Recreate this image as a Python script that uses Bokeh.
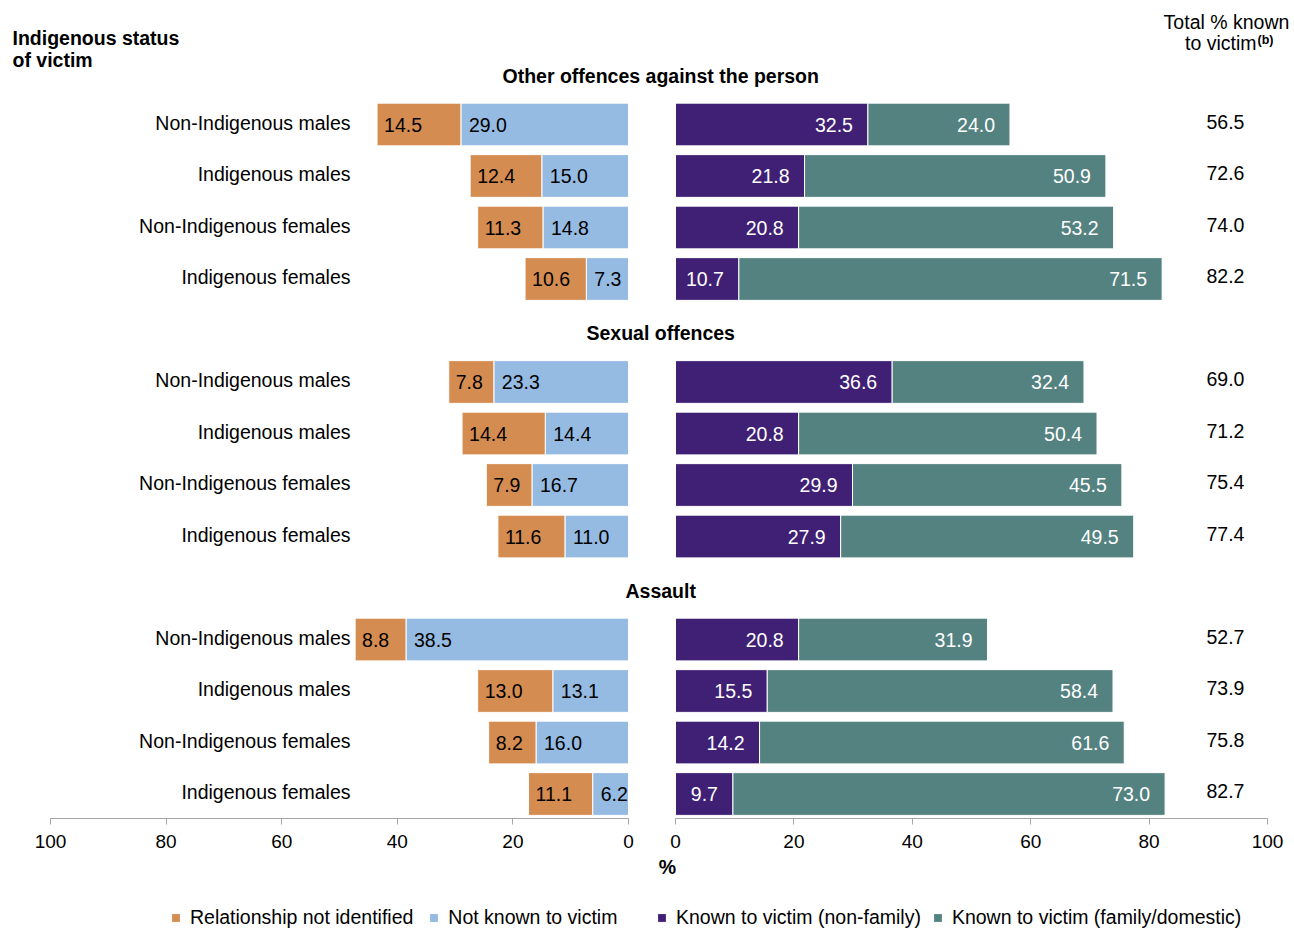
import numpy as np
from bokeh.plotting import figure
from bokeh.models import (ColumnDataSource, Range1d, LinearAxis, FixedTicker,
                          Label, Legend, LegendItem)
from bokeh.core.properties import value
from bokeh.embed import file_html
from bokeh.resources import INLINE

# ---------------- data ----------------
offence_groups = ["Other offences against the person", "Sexual offences", "Assault"]
victim_groups = ["Non-Indigenous males", "Indigenous males",
                 "Non-Indigenous females", "Indigenous females"]
not_identified = [14.5, 12.4, 11.3, 10.6, 7.8, 14.4, 7.9, 11.6, 8.8, 13.0, 8.2, 11.1]
not_known = [29.0, 15.0, 14.8, 7.3, 23.3, 14.4, 16.7, 11.0, 38.5, 13.1, 16.0, 6.2]
known_nonfamily = [32.5, 21.8, 20.8, 10.7, 36.6, 20.8, 29.9, 27.9, 20.8, 15.5, 14.2, 9.7]
known_family = [24.0, 50.9, 53.2, 71.5, 32.4, 50.4, 45.5, 49.5, 31.9, 58.4, 61.6, 73.0]
total_known = [56.5, 72.6, 74.0, 82.2, 69.0, 71.2, 75.4, 77.4, 52.7, 73.9, 75.8, 82.7]
tick_values = [0, 20, 40, 60, 80, 100]
series_names = ["Relationship not identified", "Not known to victim",
                "Known to victim (non-family)", "Known to victim (family/domestic)"]

# ---------------- style ----------------
FONT = "Liberation Sans"
FS = "19.5px"
C_ORANGE = "#D58C51"
C_BLUE = "#95BBE2"
C_PURPLE = "#3F2075"
C_TEAL = "#548280"
C_AXIS = "#A6A6A6"

n_rows = len(victim_groups)
step = n_rows + 1
ypos = [g * step + i for g in range(len(offence_groups)) for i in range(n_rows)]
row_labels = victim_groups * len(offence_groups)

rni = np.array(not_identified)
nk = np.array(not_known)
kn = np.array(known_nonfamily)
kf = np.array(known_family)

src = ColumnDataSource(dict(
    y=ypos, label=row_labels,
    nk=nk, nk_end=nk + rni, kn=kn, kf_end=kn + kf,
    rni_txt=[f"{v:.1f}" for v in rni], nk_txt=[f"{v:.1f}" for v in nk],
    kn_txt=[f"{v:.1f}" for v in kn], kf_txt=[f"{v:.1f}" for v in kf],
    tot_txt=[f"{v:.1f}" for v in total_known],
))

# frame covers the whole canvas; layout constants in data units
Y_BOTTOM = 15.631
Y_TOP = -2.4078
Y_AXIS = 13.476

p = figure(width=1294, height=929,
           x_range=Range1d(-114.02, 104.56), y_range=Range1d(Y_BOTTOM, Y_TOP),
           output_backend="svg", toolbar_location=None,
           x_axis_location=None, y_axis_location=None,
           min_border=0, min_border_left=0, min_border_right=0,
           min_border_top=0, min_border_bottom=0,
           outline_line_color=None, background_fill_color="white",
           border_fill_color="white")
p.extra_x_ranges = {"left": Range1d(108.65, -115.22)}
p.xgrid.visible = False
p.ygrid.visible = False
p.grid.visible = False

BH = 0.83
r_blue = p.hbar(y="y", left="nk", right=0, height=BH, source=src, x_range_name="left",
                fill_color=C_BLUE, line_color="white", line_width=1)
r_orange = p.hbar(y="y", left="nk_end", right="nk", height=BH, source=src, x_range_name="left",
                  fill_color=C_ORANGE, line_color="white", line_width=1)
r_purple = p.hbar(y="y", left=0, right="kn", height=BH, source=src,
                  fill_color=C_PURPLE, line_color="white", line_width=1)
r_teal = p.hbar(y="y", left="kn", right="kf_end", height=BH, source=src,
                fill_color=C_TEAL, line_color="white", line_width=1)

txt = dict(text_font=value(FONT), text_font_size=value(FS), text_baseline="middle")

# values on bars
p.text(x="nk_end", y="y", text="rni_txt", source=src, x_range_name="left",
       x_offset=7, text_align="left", text_color="black", **txt)
p.text(x="nk", y="y", text="nk_txt", source=src, x_range_name="left",
       x_offset=8, text_align="left", text_color="black", **txt)
p.text(x="kn", y="y", text="kn_txt", source=src,
       x_offset=-15, text_align="right", text_color="white", **txt)
p.text(x="kf_end", y="y", text="kf_txt", source=src,
       x_offset=-15, text_align="right", text_color="white", **txt)

# row labels
p.text(x=48.1, y="y", text="label", source=src, x_range_name="left",
       y_offset=-2, text_align="right", text_color="black", **txt)
# totals
p.text(x=92.9, y="y", text="tot_txt", source=src, y_offset=-3,
       text_align="center", text_color="black", **txt)

# group headers
hdr_src = ColumnDataSource(dict(
    y=[g * step - 0.95 for g in range(len(offence_groups))], text=offence_groups))
p.text(x=-2.5, y="y", text="text", source=hdr_src, text_align="center",
       text_color="black", text_font_style="bold", **txt)

# axes (two separate axis lines, drawn at the same level)
for rname in ["left", "default"]:
    ax = LinearAxis(x_range_name=rname, bounds=(0, 100),
                    ticker=FixedTicker(ticks=tick_values),
                    fixed_location=Y_AXIS,
                    axis_line_color=C_AXIS, axis_line_width=1,
                    major_tick_line_color=C_AXIS, major_tick_in=0, major_tick_out=6,
                    minor_tick_line_color=None,
                    major_label_text_font=FONT, major_label_text_font_size="19px",
                    major_label_text_color="black", major_label_standoff=10)
    p.add_layout(ax, "below")

# titles
lab = dict(text_font=FONT, text_font_size=FS, text_color="black", text_baseline="middle")
p.add_layout(Label(x=12, y=-1.689, x_units="screen", text="Indigenous status",
                   text_font_style="bold", text_align="left", **lab))
p.add_layout(Label(x=12, y=-1.243, x_units="screen", text="of victim",
                   text_font_style="bold", text_align="left", **lab))
p.add_layout(Label(x=93.07, y=-2.0, text="Total % known", text_align="center", **lab))
p.add_layout(Label(x=98.14, y=-1.573, text="to victim", text_align="right", **lab))
p.add_layout(Label(x=98.31, y=-1.65, text="(b)", text_align="left", text_font=FONT,
                   text_font_size="12.5px", text_font_style="bold",
                   text_color="black", text_baseline="middle"))
p.add_layout(Label(x=0, x_offset=-8, y=14.408, text="%",
                   text_align="center", text_font_style="bold", **lab))

# legends
leg_style = dict(orientation="horizontal", label_text_font=FONT, label_text_font_size=FS,
                 label_text_color="black", glyph_width=11, glyph_height=11,
                 label_standoff=9, padding=0, margin=0, border_line_color=None,
                 background_fill_alpha=0, label_height=20)
legA = Legend(items=[LegendItem(label=series_names[0], renderers=[r_orange]),
                     LegendItem(label=series_names[1], renderers=[r_blue])],
              location=(170, 0), spacing=15, **leg_style)
legB = Legend(items=[LegendItem(label=series_names[2], renderers=[r_purple]),
                     LegendItem(label=series_names[3], renderers=[r_teal])],
              location=(656, 0), spacing=11, **leg_style)
p.add_layout(legA)
p.add_layout(legB)

open("out.html", "w").write(file_html(p, INLINE))
